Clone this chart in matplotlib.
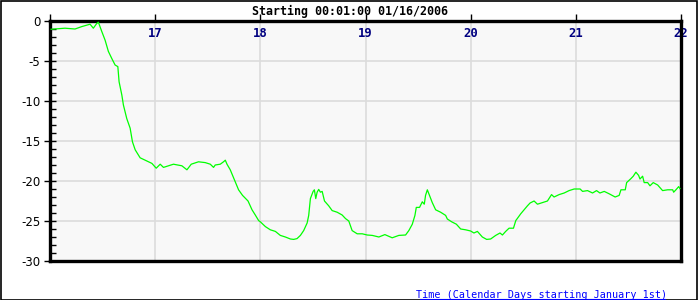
import numpy as np
import matplotlib
matplotlib.use("Agg")
import matplotlib.pyplot as plt
from matplotlib.ticker import MultipleLocator
from matplotlib.patches import Rectangle
from matplotlib.lines import Line2D

# time in calendar days
days = [16.010, 16.143, 16.238, 16.302, 16.381, 16.412, 16.429, 16.445, 16.460, 16.492,
        16.524, 16.555, 16.588, 16.619, 16.645, 16.657, 16.683, 16.698, 16.730, 16.762,
        16.784, 16.810, 16.857, 16.905, 16.969, 17.010, 17.048, 17.079, 17.174, 17.254,
        17.302, 17.343, 17.412, 17.476, 17.524, 17.555, 17.571, 17.619, 17.650, 17.667,
        17.683, 17.714, 17.762, 17.793, 17.831, 17.883, 17.921, 17.952, 17.984, 18.000,
        18.048, 18.095, 18.143, 18.190, 18.238, 18.286, 18.317, 18.349, 18.381, 18.412,
        18.445, 18.460, 18.476, 18.502, 18.514, 18.527, 18.540, 18.555, 18.571, 18.588,
        18.610, 18.650, 18.683, 18.730, 18.778, 18.810, 18.841, 18.873, 18.921, 18.969,
        19.016, 19.064, 19.127, 19.184, 19.254, 19.317, 19.381, 19.412, 19.445, 19.470,
        19.483, 19.514, 19.540, 19.559, 19.571, 19.588, 19.603, 19.635, 19.667, 19.714,
        19.762, 19.778, 19.819, 19.864, 19.905, 19.952, 20.000, 20.031, 20.064, 20.111,
        20.152, 20.190, 20.238, 20.279, 20.302, 20.333, 20.365, 20.407, 20.429, 20.476,
        20.508, 20.540, 20.565, 20.603, 20.635, 20.683, 20.730, 20.769, 20.793, 20.841,
        20.889, 20.936, 20.984, 21.041, 21.064, 21.111, 21.159, 21.197, 21.229, 21.270,
        21.317, 21.374, 21.412, 21.429, 21.470, 21.483, 21.524, 21.546, 21.571, 21.597,
        21.610, 21.635, 21.650, 21.683, 21.705, 21.736, 21.778, 21.825, 21.873, 21.921,
        21.930, 21.952, 21.978, 21.990]
values = [-1.03, -0.9, -1.0, -0.7, -0.4, -0.9, -0.6, -0.3, -0.15, -1.3,
          -2.4, -3.8, -4.7, -5.5, -5.7, -7.6, -9.25, -10.5, -12.2, -13.4,
          -15.1, -16.1, -17.1, -17.4, -17.8, -18.4, -17.9, -18.3, -17.9, -18.1,
          -18.6, -17.9, -17.6, -17.7, -17.9, -18.3, -18.0, -17.9, -17.6, -17.4,
          -17.9, -18.6, -20.1, -21.1, -21.8, -22.5, -23.6, -24.25, -24.95, -25.1,
          -25.7, -26.1, -26.3, -26.8, -27.0, -27.25, -27.3, -27.2, -26.8, -26.2,
          -25.25, -24.3, -22.2, -21.3, -21.1, -22.2, -21.4, -21.05, -21.4, -21.3,
          -22.5, -23.1, -23.7, -23.9, -24.25, -24.7, -25.0, -26.2, -26.6, -26.6,
          -26.75, -26.8, -27.0, -26.7, -27.1, -26.8, -26.75, -26.2, -25.4, -24.3,
          -23.3, -23.3, -22.6, -22.9, -21.8, -21.1, -21.6, -22.7, -23.6, -23.9,
          -24.3, -24.75, -25.1, -25.4, -26.0, -26.1, -26.25, -26.5, -26.3, -27.0,
          -27.3, -27.25, -26.8, -26.5, -26.75, -26.3, -25.9, -25.9, -24.95, -24.1,
          -23.6, -23.1, -22.75, -22.5, -22.9, -22.7, -22.5, -21.7, -22.0, -21.7,
          -21.5, -21.2, -21.0, -21.0, -21.3, -21.2, -21.5, -21.2, -21.5, -21.3,
          -21.6, -22.0, -21.8, -21.1, -21.1, -20.2, -19.7, -19.4, -18.9, -19.3,
          -19.75, -19.4, -20.2, -20.2, -20.6, -20.2, -20.5, -21.2, -21.1, -21.1,
          -21.4, -21.1, -20.7, -20.95]

x_ticks = [16, 17, 18, 19, 20, 21, 22]
x_tick_labels = ["", "17", "18", "19", "20", "21", "22"]
y_ticks = [0, -5, -10, -15, -20, -25, -30]

title = "Starting 00:01:00 01/16/2006"
xlabel = "Time (Calendar Days starting January 1st)"

fig = plt.figure(figsize=(7, 3), dpi=100)
ax = fig.add_axes([50 / 700, 1 - 261 / 300, 631 / 700, 240 / 300])
ax.set_facecolor("#f8f8f8")

ax.plot(days, values, color="#00ff00", lw=0.9, zorder=3)

ax.set_xlim(16, 22)
ax.set_ylim(-30, 0)

# x ticks on top, labels drawn inside the plot
ax.xaxis.tick_top()
ax.set_xticks(x_ticks)
ax.set_xticklabels(x_tick_labels, family="DejaVu Sans Mono", fontweight="bold",
                   color="#000080", fontsize=8.8)
ax.tick_params(axis="x", direction="out", length=5, width=1, pad=-19)

ax.set_yticks(y_ticks)
ax.set_yticklabels([str(v) for v in y_ticks], fontsize=8.5, family="DejaVu Sans")
ax.yaxis.set_minor_locator(MultipleLocator(1))
ax.tick_params(axis="y", which="major", direction="inout", length=8, width=1, pad=3)
ax.tick_params(axis="y", which="minor", direction="in", length=4, width=1)

ax.grid(True, color="#dcdcdc", lw=1.2, zorder=0)
ax.set_axisbelow(True)

for s in ax.spines.values():
    s.set_linewidth(2.4)
    s.set_color("black")

fig.text(0.5, 1 - 11 / 300, title, ha="center", va="center",
         family="DejaVu Sans Mono", fontweight="bold", fontsize=8.4)

fig.text(542 / 700, 1 - 295 / 300, xlabel, ha="center", va="center",
         family="DejaVu Sans Mono", color="#0000ff", fontsize=7.3)
fig.add_artist(Line2D([420 / 700, 665 / 700], [1 - 299 / 300, 1 - 299 / 300],
                      color="#0000ff", lw=0.8))

# outer frame
fig.add_artist(Rectangle((0.5 / 700, 0.5 / 300), 696.5 / 700, 299 / 300,
                         transform=fig.transFigure, fill=False,
                         edgecolor="black", lw=1.2))

fig.savefig("out.png", dpi=100)
